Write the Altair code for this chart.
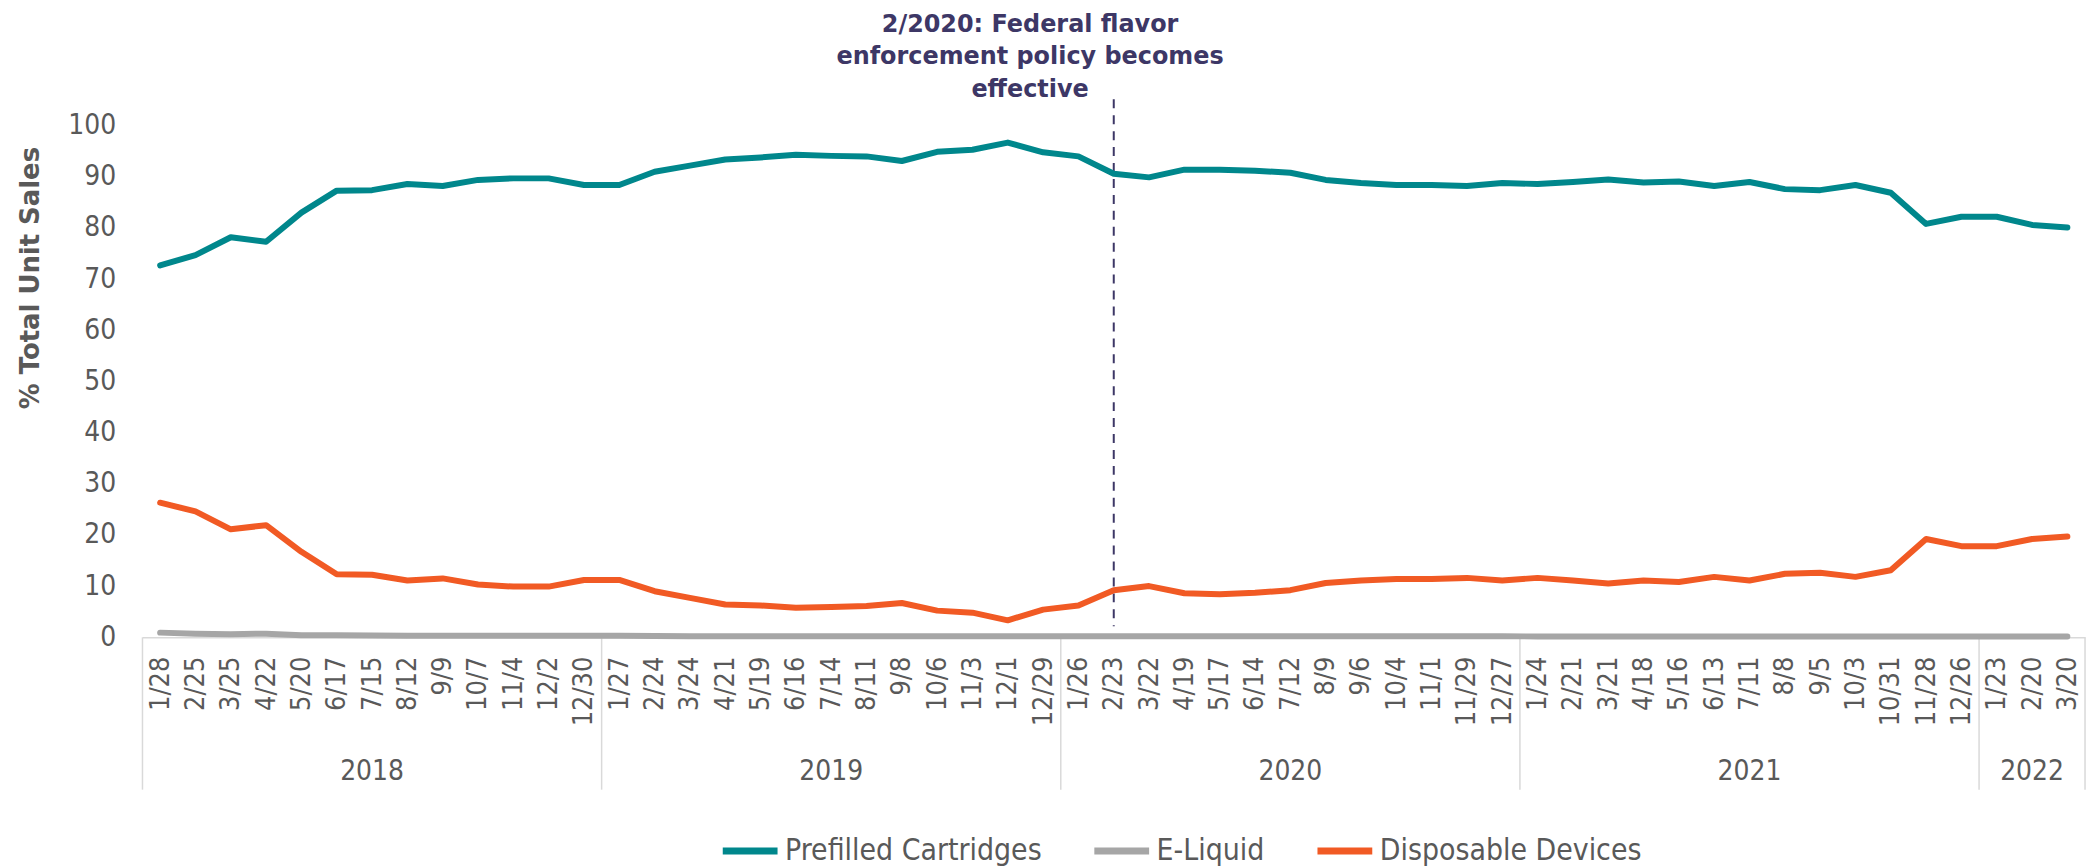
import altair as alt
import pandas as pd

# ---------------- data ----------------
years = ["2018", "2019", "2020", "2021", "2022"]
dates_2018 = ["1/28", "2/25", "3/25", "4/22", "5/20", "6/17", "7/15", "8/12", "9/9", "10/7", "11/4", "12/2", "12/30"]
dates_2019 = ["1/27", "2/24", "3/24", "4/21", "5/19", "6/16", "7/14", "8/11", "9/8", "10/6", "11/3", "12/1", "12/29"]
dates_2020 = ["1/26", "2/23", "3/22", "4/19", "5/17", "6/14", "7/12", "8/9", "9/6", "10/4", "11/1", "11/29", "12/27"]
dates_2021 = ["1/24", "2/21", "3/21", "4/18", "5/16", "6/13", "7/11", "8/8", "9/5", "10/3", "10/31", "11/28", "12/26"]
dates_2022 = ["1/23", "2/20", "3/20"]

prefilled = [72.7, 74.7, 78.2, 77.3, 83.0, 87.3, 87.4, 88.6, 88.2, 89.4, 89.7, 89.7, 88.4,
             88.4, 91.0, 92.2, 93.4, 93.8, 94.3, 94.1, 94.0, 93.1, 94.9, 95.3, 96.7, 94.8,
             94.0, 90.6, 89.9, 91.4, 91.4, 91.2, 90.8, 89.4, 88.8, 88.4, 88.4, 88.2, 88.8,
             88.6, 89.0, 89.5, 88.9, 89.1, 88.2, 89.0, 87.6, 87.4, 88.4, 86.9, 80.8, 82.2,
             82.2, 80.6, 80.1]
eliquid = [0.9, 0.7, 0.6, 0.7, 0.4, 0.4, 0.35, 0.3, 0.3, 0.3, 0.3, 0.3, 0.3,
           0.3, 0.25, 0.2, 0.2, 0.2, 0.2, 0.2, 0.2, 0.2, 0.2, 0.2, 0.2, 0.2,
           0.2, 0.2, 0.2, 0.2, 0.2, 0.2, 0.2, 0.2, 0.2, 0.2, 0.2, 0.2, 0.2,
           0.15, 0.15, 0.15, 0.15, 0.15, 0.15, 0.15, 0.15, 0.15, 0.15, 0.15, 0.15, 0.15,
           0.15, 0.15, 0.15]
disposable = [26.3, 24.6, 21.1, 21.9, 16.7, 12.3, 12.2, 11.1, 11.5, 10.3, 9.9, 9.9, 11.2,
              11.2, 9.0, 7.7, 6.4, 6.2, 5.75, 5.9, 6.1, 6.7, 5.2, 4.8, 3.3, 5.4,
              6.2, 9.2, 10.0, 8.6, 8.4, 8.7, 9.2, 10.6, 11.1, 11.4, 11.4, 11.6, 11.1,
              11.6, 11.1, 10.5, 11.1, 10.8, 11.8, 11.1, 12.4, 12.6, 11.8, 13.1, 19.2, 17.8,
              17.8, 19.2, 19.7]

series_names = ["Prefilled Cartridges", "E-Liquid", "Disposable Devices"]
series_colors = ["#00878C", "#A6A6A6", "#F15A24"]
annotation_lines = ["2/2020: Federal flavor", "enforcement policy becomes", "effective"]
event_date = "2/23"
event_year = "2020"
y_ticks = [0, 10, 20, 30, 40, 50, 60, 70, 80, 90, 100]

# ---------------- tables ----------------
year_dates = [dates_2018, dates_2019, dates_2020, dates_2021, dates_2022]
all_dates = [d for ds in year_dates for d in ds]
n = len(all_dates)
rows = []
for i in range(n):
    for k, (name, vals) in enumerate(zip(series_names, [prefilled, eliquid, disposable])):
        rows.append({"idx": i, "series": name, "value": vals[i], "order": k})
df = pd.DataFrame(rows)

bounds = [-0.5]
centres = []
start = 0
for ds in year_dates:
    centres.append(start + (len(ds) - 1) / 2)
    start += len(ds)
    bounds.append(start - 0.5)
bounds_df = pd.DataFrame({"b": bounds})
years_df = pd.DataFrame({"c": centres, "year": years})

event_idx = sum(len(ds) for ds in year_dates[:years.index(event_year)]) + year_dates[years.index(event_year)].index(event_date)
event_df = pd.DataFrame({"idx": [event_idx], "txt": ["\n".join(annotation_lines)]})

label_expr = "[" + ",".join("'%s'" % d for d in all_dates) + "][datum.value]"

W, H = 1950, 513.5
FONT = "DejaVu Sans Condensed, Liberation Sans, sans-serif"
GREY = "#595959"
PURPLE = "#3D3766"

xscale = alt.Scale(domain=[-0.5, n - 0.5], nice=False, zero=False)
x_axis = alt.Axis(values=list(range(n)), labelExpr=label_expr, labelAngle=270,
                  labelAlign="right", labelBaseline="middle",
                  ticks=False, tickSize=0, grid=False, domainColor="#D9D9D9", domainWidth=1.5,
                  labelPadding=19, labelFontSize=27, labelFont=FONT, labelColor=GREY,
                  labelOverlap=False, labelSeparation=0, labelFlush=False, labelBound=False,
                  title=None)

lines = alt.Chart(df).mark_line(strokeWidth=6, strokeJoin="round", strokeCap="round").encode(
    x=alt.X("idx:Q", scale=xscale, axis=x_axis),
    y=alt.Y("value:Q", scale=alt.Scale(domain=[0, 100], nice=False),
            axis=alt.Axis(values=y_ticks, grid=False, domain=False, ticks=False, tickSize=0,
                          labelPadding=27, labelFontSize=28, labelFont=FONT, labelColor=GREY,
                          title="% Total Unit Sales", titleFont="DejaVu Sans", titleFontSize=26,
                          titleFontWeight="bold", titleColor=GREY, titleAngle=270,
                          titleX=-112, titleY=152.5, titleAlign="center", titleBaseline="middle")),
    color=alt.Color("series:N", scale=alt.Scale(domain=series_names, range=series_colors),
                    sort=series_names,
                    legend=alt.Legend(title=None, orient="none", direction="horizontal",
                                      legendX=579, legendY=697, symbolType="stroke",
                                      symbolSize=3025, symbolStrokeWidth=7,
                                      labelFont=FONT, labelFontSize=30, labelColor=GREY,
                                      labelLimit=0, labelOffset=4, columnPadding=38)),
    order=alt.Order("order:Q"),
    detail="series:N",
)

seps = alt.Chart(bounds_df).mark_rule(color="#D9D9D9", strokeWidth=1.5).encode(
    x=alt.X("b:Q", scale=xscale, axis=x_axis),
    y=alt.value(H),
    y2=alt.value(H + 153),
)

year_text = alt.Chart(years_df).mark_text(font=FONT, fontSize=28, color=GREY, baseline="middle").encode(
    x=alt.X("c:Q", scale=xscale, axis=x_axis),
    y=alt.value(H + 135),
    text="year:N",
)

event_rule = alt.Chart(event_df).mark_rule(color=PURPLE, strokeWidth=2, strokeDash=[9, 7]).encode(
    x=alt.X("idx:Q", scale=xscale, axis=x_axis),
    y=alt.value(-26.5),
    y2=alt.value(502.5),
)

event_text = alt.Chart(event_df).mark_text(font="DejaVu Sans", fontSize=24, fontWeight="bold",
                                           color=PURPLE, align="center", baseline="middle",
                                           lineBreak="\n", lineHeight=33).encode(
    x=alt.value(891),
    y=alt.value(-101.5),
    text="txt:N",
)

chart = alt.layer(seps, year_text, event_rule, lines, event_text).properties(
    width=W, height=H,
    autosize=alt.AutoSizeParams(type="none"),
    padding={"left": 135, "top": 116.5, "right": 7, "bottom": 228},
).configure_view(stroke=None)

chart.save("out.html", embed_options={"renderer": "svg", "actions": False})
